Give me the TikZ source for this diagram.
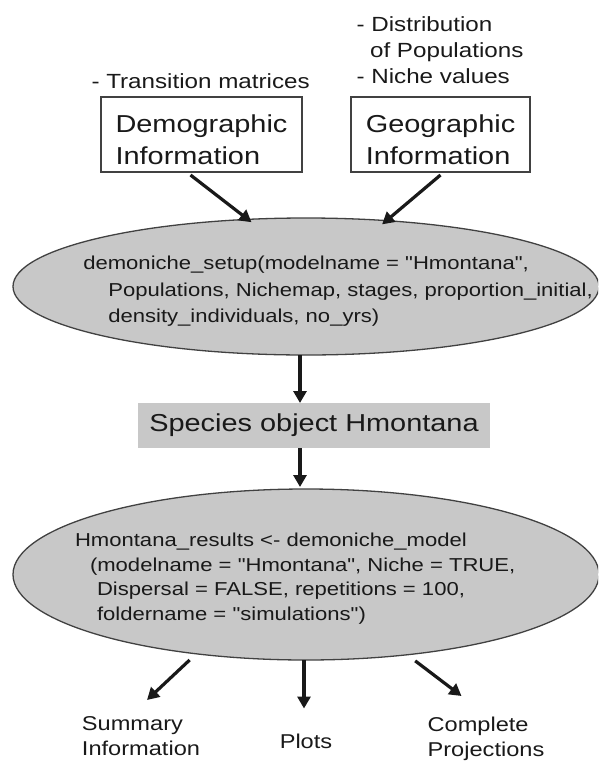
\documentclass[tikz,border=0pt]{standalone}
\usepackage{fontspec}
\setmainfont{Liberation Sans}[FakeStretch=1.18,Ligatures=TeXOff]
\usetikzlibrary{shapes.geometric,arrows.meta,positioning}
\definecolor{fundo}{RGB}{200,200,200}
\definecolor{borda}{RGB}{65,65,65}
\definecolor{texto}{RGB}{25,25,25}
\tikzstyle{infobox}=[draw=borda,line width=1.2pt,minimum width=201pt,minimum height=75pt,inner sep=0pt,align=left,font=\fontsize{24.5}{32.3}\selectfont]
\tikzstyle{note}=[inner sep=0pt,align=left,font=\fontsize{20.5}{25.8}\selectfont]
\tikzstyle{oval}=[ellipse,draw=borda,line width=1.3pt,fill=fundo,minimum width=586pt,minimum height=137pt,inner sep=0pt]
\tikzstyle{code}=[inner sep=0pt,align=left,anchor=north west]
\tikzstyle{objbox}=[fill=fundo,minimum width=352pt,minimum height=45pt,inner sep=0pt,font=\fontsize{24.5}{30}\selectfont]
\tikzstyle{outtext}=[inner sep=0pt,align=left,font=\fontsize{20}{25}\selectfont]
\tikzstyle{seta}=[line width=3.2pt,draw=texto,-{Triangle[length=12pt,width=13pt]}]
\newcommand{\lowline}{\rule{0pt}{28.7pt}}% pushes the box text down a bit
\begin{document}
\begin{tikzpicture}[x=1pt,y=-1pt,every node/.style={text=texto,outer sep=0pt}]
\clip (0,0) rectangle (598,761);
% entradas
\node[infobox] (demo) at (201.5,134.5) {\lowline Demographic\\Information};
\node[infobox,minimum width=179pt] (geo) at (440.5,134.5) {\lowline Geographic\\Information};
\node[note,anchor=base west] (demonote) at (91.5,88.3) {- Transition matrices};
\node[note,anchor=north west] (geonote) at (356.6,16.7) {- Distribution\\\hspace*{13.5pt}of Populations\\- Niche values};
%
\node[oval] (setup) at (306,286.5) {};
\node[code,font=\fontsize{18.7}{26.5}\selectfont] (setuptext) at (83.3,256.4) {demoniche\_setup(modelname = "Hmontana",\\\hspace*{25pt}Populations, Nichemap, stages, proportion\_initial,\\\hspace*{25pt}density\_individuals, no\_yrs)};
\draw[seta] ([xshift=-11pt,yshift=-3pt]demo.south) -- ([yshift=-3pt]setup.129);
\draw[seta] ([yshift=-3pt]geo.south) -- ([yshift=-4pt]setup.41.3);
%
\node[objbox] (obj) at (314,425.5) {Species object Hmontana};
\draw[seta] ([xshift=-6pt]setup.south) -- ([xshift=-14pt]obj.north);
%
\node[oval,minimum height=171pt] (result) at (306,574.5) {};
\node[code,font=\fontsize{18.7}{24.5}\selectfont] (resulttext) at (75,533.1) {Hmontana\_results <- demoniche\_model\\\hspace*{15pt}(modelname = "Hmontana", Niche = TRUE,\\\hspace*{22pt}Dispersal = FALSE, repetitions = 100,\\\hspace*{22pt}foldername = "simulations")};
\draw[seta] ([xshift=-14pt]obj.south) -- ([xshift=-6pt,yshift=2pt]result.north);
%
\node[outtext,anchor=north] (summary) at (141,717) {Summary\\Information};
\node[outtext,anchor=base] (plots) at (306,748) {Plots};
\node[outtext,anchor=north] (complete) at (486,717) {Complete\\Projections};
\draw[seta] ([yshift=-7pt]result.214.6) -- ([xshift=6pt,yshift=17pt]summary.north);
\draw[seta] ([xshift=-2pt]result.south) -- ([xshift=-2pt,yshift=25pt]plots.north);
\draw[seta] ([yshift=-7pt]result.324.7) -- ([xshift=-24.5pt,yshift=21pt]complete.north);
\end{tikzpicture}
\end{document}
